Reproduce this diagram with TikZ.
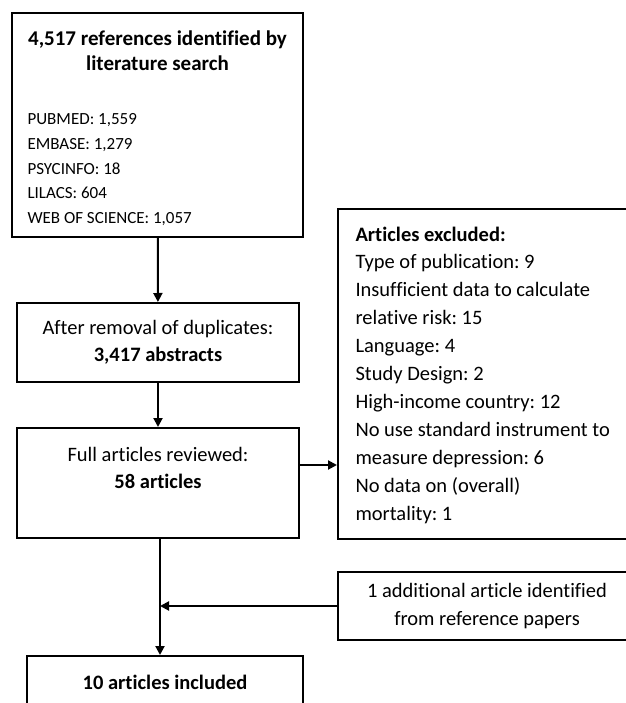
\documentclass[tikz,border=0pt]{standalone}
\usepackage{fontspec}
\setmainfont{Carlito}[Ligatures=NoCommon]
\frenchspacing
\usetikzlibrary{arrows.meta,positioning}

\begin{document}
\begin{tikzpicture}[x=1pt, y=-1pt,
    box/.style={draw, line width=2pt, inner sep=0pt},
    txt/.style={font=\fontsize{20.5}{27.5}\selectfont},
    arr/.style={-{Triangle[length=9pt,width=9pt]}, line width=2pt}]
    \useasboundingbox (0,0) rectangle (625,703);

    % boxes
    \node[box, minimum width=291, minimum height=224] (search) at (157.5,125) {};
    \node[box, txt, minimum width=282, minimum height=79, align=center] (dup) at (158,342.5)
        {After removal of duplicates:\\\textbf{3,417 abstracts}};
    \node[box, minimum width=282, minimum height=110] (full) at (158,483) {};
    \node[box, minimum width=298, minimum height=330] (excl) at (487,374) {};
    \node[box, txt, minimum width=298, minimum height=68, align=center] (extra) at (487,606)
        {1 additional article identified\\from reference papers};
    \node[box, txt, minimum width=276, minimum height=52] (final) at (165,682)
        {\textbf{10 articles included}};

    % texts
    \node[font=\fontsize{21}{25}\selectfont\bfseries, align=center] (searchtitle) at (157.5,51)
        {4,517 references identified by\\literature search};
    \node[font=\fontsize{17}{24.8}\selectfont, align=left, anchor=north west] (searchlist) at (24,110)
        {PUBMED: 1,559\\EMBASE: 1,279\\PSYCINFO: 18\\LILACS: 604\\WEB OF SCIENCE: 1,057};
    \node[txt, align=center] (fulltxt) at (158,468)
        {Full articles reviewed:\\\textbf{58 articles}};
    \node[txt, font=\fontsize{20.5}{27.9}\selectfont, align=left, anchor=west] (excltxt) at (352,375)
        {\textbf{Articles excluded:}\\Type of publication: 9\\Insufficient data to calculate\\relative risk: 15\\Language: 4\\Study Design: 2\\High-income country: 12\\No use standard instrument to\\measure depression: 6\\No data on (overall)\\mortality: 1};

    \coordinate (exclrow) at (320,465);

    % connectors
    \draw[arr] (search) -- (dup);
    \draw[arr] (dup) -- (full);
    \draw[arr] (full.east |- exclrow) -- (excl.west |- exclrow);
    \draw[arr] (full.south -| 160,0) -- (final.north -| 160,0);
    \draw[arr] (extra.west) -- (extra.west -| 160,0);
\end{tikzpicture}
\end{document}
